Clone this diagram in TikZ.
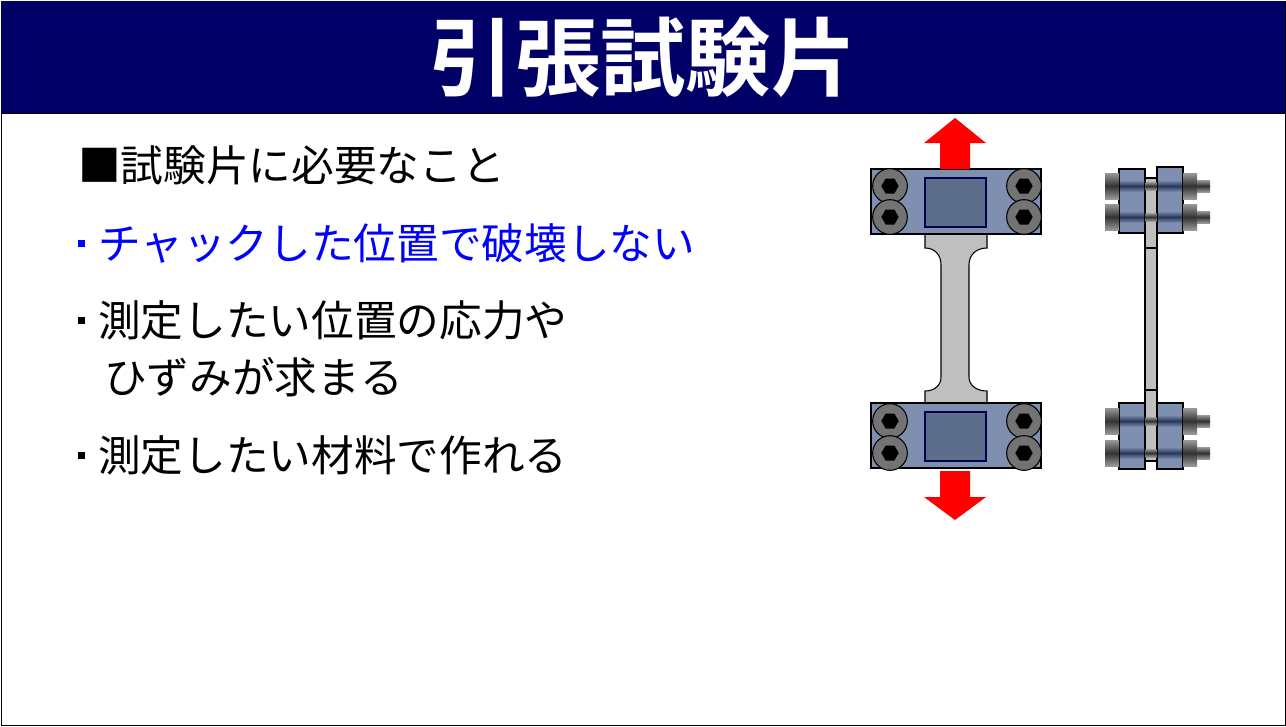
\documentclass[tikz,border=0pt]{standalone}
\usepackage{fontspec}
\newfontfamily\cjk{Noto Sans CJK JP}[BoldFont={Noto Sans CJK JP Bold}]
\usetikzlibrary{positioning,shapes.geometric}
\definecolor{navy}{RGB}{0,0,102}
\definecolor{clampblue}{RGB}{127,143,176}
\definecolor{gripblue}{RGB}{93,110,140}
\definecolor{bandnavy}{RGB}{40,55,90}
\newcommand{\dotmark}{\rule[9pt]{5pt}{5pt}\hspace{10pt}}
\begin{document}
\begin{tikzpicture}[x=0.75pt,y=-0.75pt,
    clampc/.style={draw=black, thick, fill=clampblue},
    gripc/.style={draw=black!70!blue, thick, fill=gripblue},
    specimen/.style={draw=black, thick, fill=black!25},
    bolt/.style={circle, draw=black, thick, fill=black!55, minimum size=26, inner sep=0},
    hexa/.style={regular polygon, regular polygon sides=6, fill=black, minimum size=13, inner sep=0},
    pull/.style={fill=red, draw=none},
    shank/.style={top color=black!40, bottom color=black!40, middle color=black!80, draw=none},
    bandc/.style={top color=clampblue, bottom color=clampblue, middle color=bandnavy, draw=none},
    item/.style={anchor=west, font=\cjk\fontsize{32pt}{38pt}\selectfont, inner sep=0}
  ]
  \useasboundingbox (0,0) rectangle (1286,726);
  \draw[fill=white] (1,1) rectangle (1285,725);
  \fill[navy] (1,1) rectangle (1285,113);
  \draw (1,113) -- (1285,113);
  \node[text=white, font=\cjk\bfseries\fontsize{64pt}{70pt}\selectfont] (title) at (643,57) {引張試験片};

  % bullet list
  \node[item] (need) at (78,165) {■試験片に必要なこと};
  \node[item, text=blue] (chuck) at (78,243) {\dotmark チャックした位置で破壊しない};
  \node[item] (stress) at (78,320) {\dotmark 測定したい位置の応力や};
  \node[item] (strain) at (104,377) {ひずみが求まる};
  \node[item] (mat) at (78,455) {\dotmark 測定したい材料で作れる};

  % front view
  \draw[specimen] (925,178) -- (987,178) -- (987,248)
    .. controls (976,248) and (969,255) .. (969,265) -- (969,377)
    .. controls (969,385) and (976,391) .. (987,391) -- (987,461) -- (925,461) -- (925,391)
    .. controls (935,391) and (941,385) .. (941,377) -- (941,265)
    .. controls (941,255) and (935,248) .. (925,248) -- cycle;
  \foreach \y in {169,403}{
    \draw[clampc] (871,\y) rectangle (1041,\y+65);
    \draw[gripc] (925,\y+9) rectangle (986,\y+58);
  }
  \foreach \x in {890,1024}
    \foreach \y in {186,217,421,453}{
      \node[bolt] at (\x,\y) {};
      \node[hexa] at (\x,\y) {};
    }
  \fill[pull] (940,169) -- (940,143) -- (924,143) -- (955,118) -- (986,143) -- (970,143) -- (970,169) -- cycle;
  \fill[pull] (940,471) -- (940,497) -- (924,497) -- (955,520) -- (986,497) -- (970,497) -- (970,471) -- cycle;

  % side view
  \draw[specimen] (1145,178) rectangle (1157,461);
  \draw[thick] (1145,248) -- (1157,248) (1145,390) -- (1157,390);
  \foreach \y/\t/\b in {169/167/233,403/403/469}{
    \draw[clampc] (1119,\y) rectangle (1145,\b);
    \draw[clampc] (1157,\t) rectangle (1183,\b);
  }
  \foreach \y in {186,217,421,453}{
    \shade[shank] (1105,\y-13) rectangle (1119,\y+13);
    \shade[shank] (1183,\y-13) rectangle (1197,\y+13);
    \shade[shank] (1197,\y-6) rectangle (1210,\y+6);
    \shade[bandc] (1120,\y-6) rectangle (1144,\y+6);
    \shade[bandc] (1158,\y-6) rectangle (1182,\y+6);
    \shade[shank] (1145.5,\y-4) rectangle (1156.5,\y+4);
  }
\end{tikzpicture}
\end{document}
